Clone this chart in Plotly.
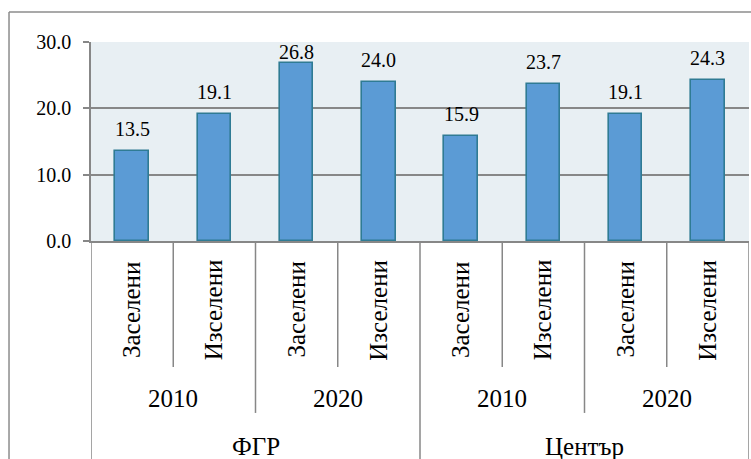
import plotly.graph_objects as go

# chart data
regions = ["ФГР", "Център"]
years = ["2010", "2020"]
flows = ["Заселени", "Изселени"]
values = [13.5, 19.1, 26.8, 24.0, 15.9, 23.7, 19.1, 24.3]
y_ticks = [0, 10, 20, 30]

# label offsets in px (Excel pushed the 26.8 label down to stay inside)
label_shift = [9, 9, -2, 9, 9, 9, 9, 9]

SERIF = "Liberation Serif, Times New Roman, serif"
GRID = "#878787"

n = len(values)
xs = list(range(n))

fig = go.Figure()
fig.add_trace(go.Bar(
    x=xs, y=values, width=0.41,
    marker=dict(color="#5b9bd5", line=dict(color="#2f7b94", width=1.6)),
    hoverinfo="skip"
))

annotations = []
# data labels
for i, v in enumerate(values):
    annotations.append(dict(
        x=i, y=v, xref="x", yref="y", text=f"{v:.1f}", showarrow=False,
        yanchor="bottom", yshift=label_shift[i],
        font=dict(family=SERIF, size=20, color="black")
    ))

# three-level category axis
pos = 0
for r, reg in enumerate(regions):
    for y_i, yr in enumerate(years):
        for fl in flows:
            annotations.append(dict(
                x=pos, y=-0.3467, xref="x", yref="paper", text=fl,
                textangle=-90, showarrow=False, xanchor="center", yanchor="middle",
                font=dict(family=SERIF, size=25, color="black")
            ))
            pos += 1
        mid = pos - len(flows) / 2 - 0.5
        annotations.append(dict(
            x=mid, y=-0.789, xref="x", yref="paper", text=yr, showarrow=False,
            xanchor="center", yanchor="middle",
            font=dict(family=SERIF, size=25, color="black")
        ))
    gmid = pos - len(years) * len(flows) / 2 - 0.5
    annotations.append(dict(
        x=gmid, y=-1.035, xref="x", yref="paper", text=reg, showarrow=False,
        xanchor="center", yanchor="middle",
        font=dict(family=SERIF, size=25, color="black")
    ))

shapes = []
# dividers between the category cells
for b in range(n + 1):
    x = b - 0.5
    if b % (len(years) * len(flows)) == 0:
        y1 = -1.3
    elif b % len(flows) == 0:
        y1 = -0.864
    else:
        y1 = -0.633
    shapes.append(dict(type="line", xref="x", yref="paper", x0=x, x1=x,
                       y0=0, y1=y1, line=dict(color=GRID, width=1.5)))

# outer chart border (top / left)
shapes.append(dict(type="line", xref="paper", yref="paper", x0=-0.1246, x1=1.05,
                   y0=1.1508, y1=1.1508, line=dict(color="#8c8c8c", width=1.5)))
shapes.append(dict(type="line", xref="paper", yref="paper", x0=-0.1246, x1=-0.1246,
                   y0=1.1508, y1=-1.3, line=dict(color="#8c8c8c", width=1.5)))

fig.update_layout(
    width=751, height=459,
    margin=dict(l=91, r=2, t=42, b=218),
    paper_bgcolor="white",
    plot_bgcolor="#e8eff3",
    showlegend=False,
    bargap=0,
    annotations=annotations,
    shapes=shapes,
    xaxis=dict(range=[-0.5, n - 0.5], showticklabels=False, showgrid=False,
               zeroline=False, showline=True, linecolor=GRID, linewidth=1.5,
               ticks=""),
    yaxis=dict(range=[0, 30], tickvals=y_ticks, tickformat=".1f",
               showgrid=True, gridcolor=GRID, gridwidth=1.5, zeroline=False,
               showline=True, linecolor=GRID, linewidth=1.5,
               ticks="outside", ticklen=6, tickcolor=GRID, tickwidth=1.5,
               ticklabelstandoff=8,
               tickfont=dict(family=SERIF, size=20, color="black")),
)

# drop the default page margin so the figure sits at the window origin
fig.write_html("out.html", config={"displayModeBar": False},
               post_script="document.body.style.margin='0px';")
